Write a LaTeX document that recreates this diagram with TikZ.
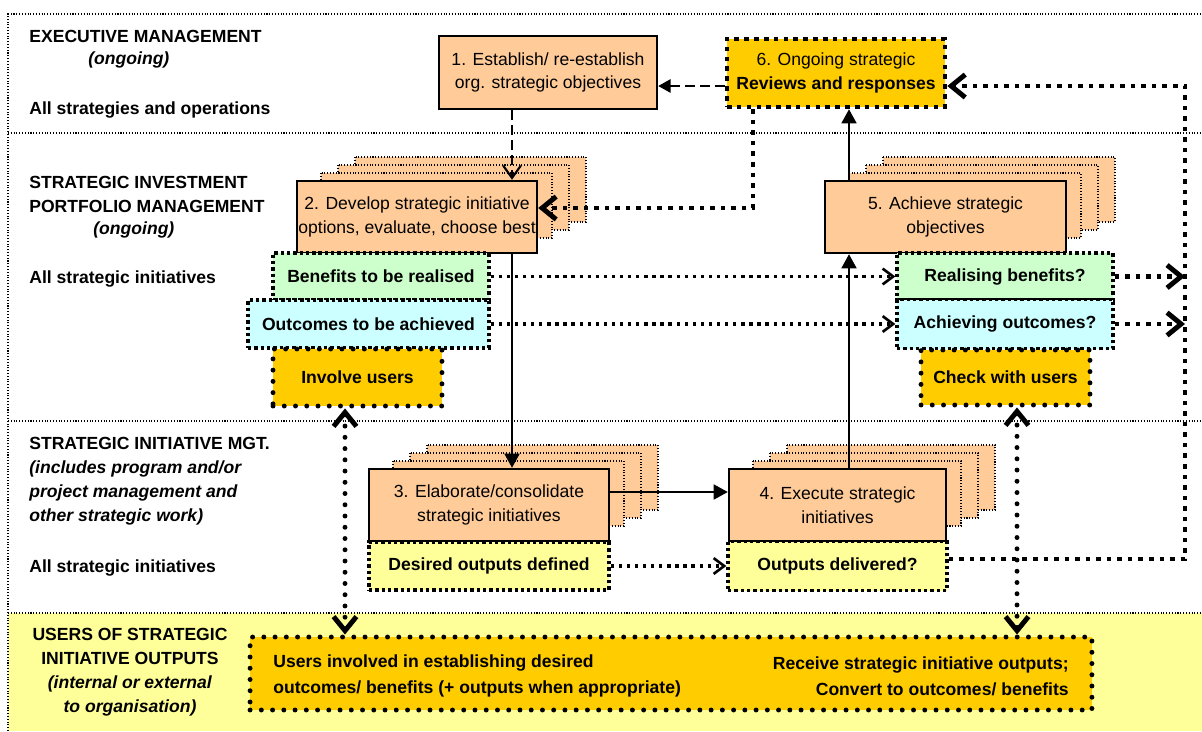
\documentclass[tikz,border=0pt]{standalone}
\usepackage{fontspec}
\setmainfont{Liberation Sans}
\usepackage{xcolor}
\usepackage{tikz}
\usetikzlibrary{arrows.meta}

\definecolor{peach}{HTML}{FFCC99}
\definecolor{gold}{HTML}{FFCC00}
\definecolor{mint}{HTML}{CCFFCC}
\definecolor{aqua}{HTML}{CCFFFF}
\definecolor{paleyellow}{HTML}{FFFF99}

% three dotted copies behind a step box: left, top, width, height
\newcommand{\stackbox}[4]{%
  \foreach \i in {3,2,1}
    \draw[shadowbox] (#1+7+17*\i,#2-8*\i) rectangle ++(#3-9,#4-7);}

\begin{document}
\begin{tikzpicture}[x=0.02cm, y=-0.02cm,
% common options for the step boxes:
stepbox/.style = {draw, line width=1.4pt, fill=peach, align=center, inner sep=0,
            minimum height=1.44cm, font=\fontsize{10pt}{13.6pt}\selectfont},
shadowbox/.style = {draw, line width=0.6pt, densely dotted, fill=peach},
reviewbox/.style = {draw, line width=2.6pt, dash pattern=on 2.6pt off 3pt, fill=gold,
            align=center, inner sep=0, font=\fontsize{10pt}{13.6pt}\selectfont},
% common options for the check boxes:
squarebox/.style = {draw, line width=1.9pt, dash pattern=on 1.9pt off 1.7pt,
            align=center, inner sep=0, font=\bfseries},
roundbox/.style = {draw, line width=2.8pt, line cap=round, dash pattern=on 0pt off 6.4pt,
            fill=gold, align=center, inner sep=0, font=\bfseries},
% common options for the left texts:
lefttext/.style = {anchor=west, align=left, inner sep=0,
            font=\fontsize{10pt}{13.6pt}\selectfont\bfseries},
section/.style = {line width=0.6pt, densely dotted},
% common options for the connectors:
flow/.style = {line width=1.1pt, -{Triangle[length=8pt,width=8.5pt]}},
dasharrow/.style = {line width=1.2pt, dash pattern=on 5.5pt off 3pt},
checkline/.style = {line width=1.9pt, dash pattern=on 1.9pt off 2.7pt,
            -{Straight Barb[length=6pt,width=9pt,line width=1.5pt]}},
loopline/.style = {line width=2.6pt, dash pattern=on 2.6pt off 3.4pt,
            -{Straight Barb[length=8pt,width=13pt,line width=2.8pt]}},
userline/.style = {line width=2.8pt, line cap=round, dash pattern=on 0pt off 6.4pt,
            {Straight Barb[length=8pt,width=13pt,line width=2.8pt]}-{Straight Barb[length=8pt,width=13pt,line width=2.8pt]}}]

\useasboundingbox (0,0) rectangle (1202,731);
\fill[paleyellow] (8,613) rectangle (1202,731);
\draw[section] (8,731) -- (8,14) -- (1202,14);
\draw[section] (8,133) -- (1202,133);
\draw[section] (8,421) -- (1202,421);
\draw[section] (8,613) -- (1202,613);

% lane labels
\node[lefttext] (L1) at (29,36) {EXECUTIVE MANAGEMENT};
\node[lefttext] (L2) at (88,60) {\textit{(ongoing)}};
\node[lefttext] (L3) at (29,110) {All strategies and operations};
\node[lefttext] (L4) at (29,194) {STRATEGIC INVESTMENT\\PORTFOLIO MANAGEMENT};
\node[lefttext] (L5) at (93,230) {\textit{(ongoing)}};
\node[lefttext] (L6) at (29,279) {All strategic initiatives};
\node[lefttext] (L7) at (29,481.5) {STRATEGIC INITIATIVE MGT.\\\textit{(includes program and/or}\\\textit{project management and}\\\textit{other strategic work)}};
\node[lefttext] (L8) at (29,568) {All strategic initiatives};
\node[lefttext, anchor=center, align=center] (L9) at (130,672.5) {USERS OF STRATEGIC\\INITIATIVE OUTPUTS\\\textit{(internal or external}\\\textit{to organisation)}};

% steps
\stackbox{297}{181}{240}{72}
\stackbox{825}{181}{241}{72}
\stackbox{369}{469}{240}{72}
\stackbox{729}{469}{217}{72}
\node[stepbox, minimum width=4.36cm, minimum height=1.46cm] (B1) at (548,72.5) {1. Establish/ re-establish\\org. strategic objectives};
\node[reviewbox, minimum width=4.36cm, minimum height=1.36cm] (B6) at (836,73) {6. Ongoing strategic\\\textbf{Reviews and responses}};
\node[stepbox, minimum width=4.8cm] (B2) at (417,217) {2. Develop strategic initiative\\options, evaluate, choose best};
\node[stepbox, minimum width=4.82cm] (B5) at (945.5,217) {5. Achieve strategic\\objectives};
\node[stepbox, minimum width=4.8cm] (B3) at (489,505) {3. Elaborate/consolidate\\strategic initiatives};
\node[stepbox, minimum width=4.34cm] (B4) at (837.5,505) {4. Execute strategic\\initiatives};

% checks
\node[squarebox, fill=mint, minimum width=4.32cm, minimum height=0.94cm] (G1) at (381,276.5) {Benefits to be realised};
\node[squarebox, fill=aqua, minimum width=4.82cm, minimum height=0.96cm] (C1) at (368.5,324) {Outcomes to be achieved};
\node[roundbox, minimum width=3.38cm, minimum height=1.14cm] (U1) at (357.5,377.5) {Involve users};
\node[squarebox, fill=mint, minimum width=4.32cm, minimum height=0.94cm] (G2) at (1005,276.5) {Realising benefits?};
\node[squarebox, fill=aqua, minimum width=4.32cm, minimum height=0.98cm] (C2) at (1005,324) {Achieving outcomes?};
\node[roundbox, minimum width=3.38cm, minimum height=1.1cm] (U2) at (1005.5,377.5) {Check with users};
\node[squarebox, fill=paleyellow, minimum width=4.8cm, minimum height=0.96cm] (Y1) at (489,566) {Desired outputs defined};
\node[squarebox, fill=paleyellow, minimum width=4.38cm, minimum height=0.98cm] (Y2) at (837.5,566) {Outputs delivered?};

% users
\node[roundbox, minimum width=16.84cm, minimum height=1.46cm] (UB) at (671,673.5) {};
\node[lefttext, font=\fontsize{10pt}{14.6pt}\selectfont\bfseries] (UL) at (273,676) {Users involved in establishing desired\\outcomes/ benefits (+ outputs when appropriate)};
\node[lefttext, anchor=east, align=right, font=\fontsize{10pt}{14.6pt}\selectfont\bfseries] (UR) at (1069,676) {Receive strategic initiative outputs;\\Convert to outcomes/ benefits};

\coordinate (c1) at (512,0);
\coordinate (c2) at (753,0);
\coordinate (c3) at (849,0);
\coordinate (c4) at (345,0);
\coordinate (c5) at (1017,0);
\coordinate (cr) at (1185,0);
\coordinate (r1) at (0,86);
\coordinate (r2) at (0,208);
\coordinate (r3) at (0,492);
\coordinate (r4) at (0,559);

\draw[dasharrow, -{Triangle[length=7pt,width=7.5pt]}] (B6.west |- r1) -- (B1.east |- r1);
\draw[dasharrow, -{Straight Barb[length=7pt,width=10pt]}] (B1.south -| c1) -- (B2.north -| c1);
\draw[loopline] (B6.south -| c2) |- (B2.east |- r2);
\draw[flow] (B2.south -| c1) -- (B3.north -| c1);
\draw[flow] (B3.east |- r3) -- (B4.west |- r3);
\draw[flow] (B4.north -| c3) -- (B5.south -| c3);
\draw[flow] (B5.north -| c3) -- (B6.south -| c3);
\draw[checkline] (G1.east) -- (G2.west);
\draw[checkline] (C1.east) -- (C2.west);
\draw[checkline] (Y1.east) -- (Y2.west);
\draw[loopline] (G2.east) -- (G2.east -| cr);
\draw[loopline] (C2.east) -- (C2.east -| cr);
\draw[loopline] (Y2.east |- r4) -| (cr |- r1) -- (B6.east |- r1);
\draw[userline] (U1.south -| c4) -- (UB.north -| c4);
\draw[userline] (U2.south -| c5) -- (UB.north -| c5);
\end{tikzpicture}
\end{document}
